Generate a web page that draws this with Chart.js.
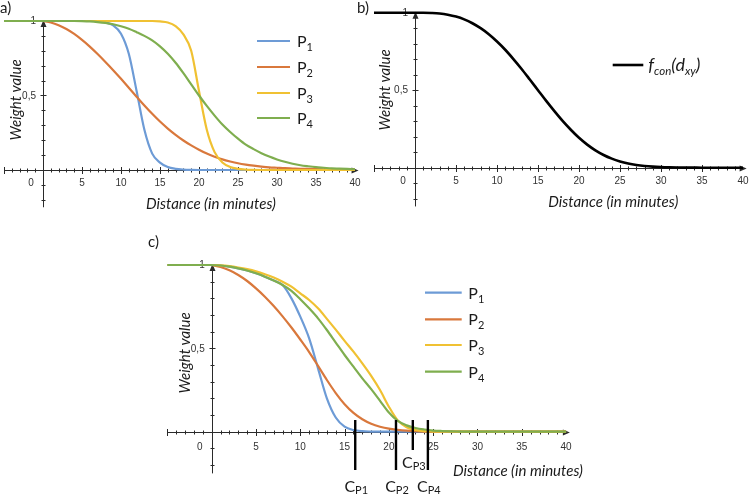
<!DOCTYPE html>
<html><head><meta charset="utf-8">
<script src="https://cdn.jsdelivr.net/npm/chart.js@4.4.1/dist/chart.umd.min.js"></script>
<style>
html,body{margin:0;padding:0;background:#fff;}
body{width:750px;height:494px;position:relative;overflow:hidden;}
canvas{position:absolute;}
</style></head><body>
<canvas id="ca"></canvas>
<canvas id="cb"></canvas>
<canvas id="cc"></canvas>
<script>
// ---------------- DATA ----------------
const distance = [-5,-4,-3,-2,-1,0,1,2,3,4,5,6,7,8,9,10,11,12,13,14,15,16,17,18,19,20,21,22,23,24,25,26,27,28,29,30,31,32,33,34,35,36,37,38,39,40];
const xTickValues = [0,5,10,15,20,25,30,35,40];
const xTickLabels = ['0','5','10','15','20','25','30','35','40'];
const yTickValues = [1,0.5];
const yTickLabels = ['1','0,5'];
const seriesNames = ['P1','P2','P3','P4'];

// panel a
const aP1 = [1,1,1,1,1,1,1,1,1,1,1,1,1,0.99,0.97,0.915,0.78,0.53,0.27,0.11,0.05,0.02,0.008,0.003,0.001,0,0,0,0,0,0,0,0,0,0,0,0,0,0,0,0,0,0,0,0,0];
const aP2 = [null,null,null,null,null,1,0.99,0.972,0.946,0.913,0.873,0.828,0.778,0.725,0.67,0.612,0.552,0.492,0.433,0.377,0.325,0.278,0.236,0.198,0.165,0.136,0.11,0.089,0.071,0.057,0.045,0.036,0.029,0.023,0.018,0.015,0.012,0.01,0.008,0.007,0.006,0.005,0.004,0.004,0.003,0.003];
const aP3 = [1,1,1,1,1,1,1,1,1,1,1,1,1,1,1,1,1,1,1,1,0.997,0.99,0.965,0.91,0.8,0.53,0.27,0.12,0.05,0.02,0.008,0.003,0.001,0,0,0,0,0,0,0,0,0,0,0,0,0];
const aP4 = [1,1,1,1,1,1,1,1,1,1,0.999,0.997,0.993,0.987,0.978,0.965,0.948,0.925,0.9,0.87,0.83,0.78,0.72,0.65,0.575,0.5,0.43,0.365,0.305,0.255,0.21,0.17,0.14,0.113,0.09,0.071,0.055,0.042,0.032,0.025,0.019,0.015,0.011,0.009,0.007,0.005];

// panel b
const bFcon = [1,1,1,1,1,1,0.9998,0.998,0.9945,0.987,0.975,0.957,0.932,0.9,0.861,0.814,0.761,0.701,0.637,0.569,0.5,0.431,0.365,0.302,0.245,0.193,0.149,0.112,0.082,0.0585,0.0404,0.0271,0.0176,0.011,0.0067,0.0039,0.0022,0.0012,0.0006,0.0003,0,0,0,0,0,0];

// panel c
const cP1 = [1,1,1,1,1,1,0.997,0.99,0.98,0.967,0.95,0.93,0.907,0.88,0.8,0.69,0.56,0.38,0.2,0.085,0.03,0.01,0.003,0.001,0,0,0,0,0,0,0,0,0,0,0,0,0,0,0,0,0,0,0,0,0,0];
const cP2 = [null,null,null,null,null,1,0.988,0.968,0.94,0.904,0.86,0.81,0.754,0.692,0.625,0.553,0.478,0.395,0.31,0.232,0.165,0.113,0.075,0.048,0.03,0.018,0.011,0.006,0.003,0.001,0,0,0,0,0,0,0,0,0,0,0,0,0,0,0,0];
const cP3 = [1,1,1,1,1,1,0.998,0.993,0.985,0.975,0.962,0.945,0.925,0.9,0.87,0.83,0.79,0.74,0.677,0.612,0.545,0.48,0.41,0.335,0.25,0.15,0.068,0.027,0.01,0.003,0.001,0,0,0,0,0,0,0,0,0,0,0,0,0,0,0];
const cP4 = [1,1,1,1,1,1,0.997,0.99,0.98,0.967,0.95,0.93,0.907,0.88,0.845,0.795,0.74,0.68,0.61,0.535,0.46,0.39,0.32,0.255,0.185,0.115,0.065,0.038,0.022,0.013,0.007,0.004,0.002,0.001,0,0,0,0,0,0,0,0,0,0,0,0];
const cutoffs = [16.2, 20.8, 22.7, 24.4];
const cutoffNames = ['P1','P2','P3','P4'];

// ---------------- STYLE ----------------
const COLORS = ['#6d9bd6','#d9783c','#f0c132','#7fae4f'];
const AXIS = '#2a2a2a';
const TEXT = '#1a1a1a';
const XMIN = -5.4, XMAX = 40.6, YMIN = -0.3, YMAX = 1.05;
const TICKFONT = '10px "Liberation Sans", Arial, sans-serif';
const TITLEFONT = 'italic 15px Lato, "Open Sans", sans-serif';

function richText(ctx, x, y, parts, align) {
  let w = 0;
  parts.forEach(p => { ctx.font = p[1]; w += ctx.measureText(p[0]).width; });
  let cx = align === 'center' ? x - w / 2 : (align === 'right' ? x - w : x);
  ctx.textAlign = 'left'; ctx.textBaseline = 'alphabetic';
  parts.forEach(p => { ctx.font = p[1]; ctx.fillText(p[0], cx, y + (p[2] || 0)); cx += ctx.measureText(p[0]).width; });
}
function subParts(head, sub, big, small, drop) {
  return [[head, big + 'px Lato, sans-serif'], [sub, small + 'px Lato, sans-serif', drop]];
}

function makeSketch(d) {
  return {
    id: 'sketch',
    beforeDatasetsDraw(chart) {
      const ctx = chart.ctx, sx = chart.scales.x, sy = chart.scales.y;
      const X = v => sx.getPixelForValue(v), Y = v => sy.getPixelForValue(v);
      const ox = Math.round(X(0)) + 0.5, oy = Math.round(Y(0)) + 0.5;
      ctx.save();
      ctx.strokeStyle = AXIS; ctx.fillStyle = AXIS; ctx.lineWidth = 1;
      ctx.beginPath();
      ctx.moveTo(X(-5), oy); ctx.lineTo(X(40.2), oy);
      ctx.moveTo(ox, Y(-0.25)); ctx.lineTo(ox, Y(1) + 3);
      ctx.stroke();
      const xe = X(40.2), yt = Y(1);
      ctx.beginPath(); ctx.moveTo(xe + 2, oy); ctx.lineTo(xe - 5, oy - 3); ctx.lineTo(xe - 5, oy + 3); ctx.closePath(); ctx.fill();
      ctx.beginPath(); ctx.moveTo(ox, yt - 1); ctx.lineTo(ox - 3, yt + 6); ctx.lineTo(ox + 3, yt + 6); ctx.closePath(); ctx.fill();
      ctx.beginPath();
      for (let v = -5; v <= 39; v++) {
        if (v === 0) continue;
        const px = Math.round(X(v)) + 0.5, L = (v % 5 === 0) ? 3.5 : 2;
        ctx.moveTo(px, oy - L); ctx.lineTo(px, oy + L);
      }
      for (let k = -2; k <= 9; k++) {
        if (k === 0) continue;
        const py = Math.round(Y(k / 10)) + 0.5, L = (k === 5) ? 3 : 2;
        ctx.moveTo(ox - L, py); ctx.lineTo(ox + L, py);
      }
      ctx.stroke();
      // tick labels
      ctx.fillStyle = '#333'; ctx.font = TICKFONT; ctx.textBaseline = 'middle';
      ctx.textAlign = 'center';
      xTickValues.forEach((v, i) => ctx.fillText(xTickLabels[i], v === 0 ? X(0) - 12 : X(v), Y(0) + d.xLabelDy));
      ctx.textAlign = 'right';
      yTickValues.forEach((v, i) => ctx.fillText(yTickLabels[i], X(0) - 7, Y(v) + 0.5));
      // titles
      ctx.fillStyle = TEXT; ctx.font = TITLEFONT; ctx.textAlign = 'center'; ctx.textBaseline = 'middle';
      ctx.fillText('Distance (in minutes)', d.xTitle[0], d.xTitle[1]);
      ctx.save(); ctx.translate(d.yTitle[0], d.yTitle[1]); ctx.rotate(-Math.PI / 2);
      ctx.fillText('Weight value', 0, 0); ctx.restore();
      ctx.restore();
    },
    afterDraw(chart) {
      const ctx = chart.ctx, sx = chart.scales.x, sy = chart.scales.y;
      const X = v => sx.getPixelForValue(v), Y = v => sy.getPixelForValue(v);
      ctx.save();
      ctx.fillStyle = TEXT;
      (d.tags || []).forEach(t => { ctx.font = '15px Lato, sans-serif'; ctx.textAlign = 'left'; ctx.textBaseline = 'alphabetic'; ctx.fillText(t[0], t[1], t[2]); });
      if (d.legend) {
        const L = d.legend;
        seriesNames.forEach((n, i) => {
          ctx.strokeStyle = COLORS[i]; ctx.lineWidth = 2.2;
          ctx.beginPath(); ctx.moveTo(L.x1, L.rows[i]); ctx.lineTo(L.x2, L.rows[i]); ctx.stroke();
          ctx.fillStyle = TEXT;
          richText(ctx, L.tx, L.rows[i] + 6, subParts(n[0], n.slice(1), 16, 11, 4), 'left');
        });
      }
      if (d.fLegend) {
        const F = d.fLegend;
        ctx.strokeStyle = '#000'; ctx.lineWidth = 2.6;
        ctx.beginPath(); ctx.moveTo(F.x1, F.y); ctx.lineTo(F.x2, F.y); ctx.stroke();
        ctx.fillStyle = TEXT;
        const B = 'italic 18px Lato, sans-serif', S = 'italic 11.5px Lato, sans-serif';
        richText(ctx, F.tx, F.y + 6, [['f', B], ['con', S, 4], ['(d', B], ['xy', S, 4], [')', B]], 'left');
      }
      if (d.cutoffLabels) {
        ctx.fillStyle = TEXT;
        cutoffs.forEach((c, i) => {
          richText(ctx, X(c) + 1, Y(0) + d.cutoffLabels[i], subParts('C', cutoffNames[i], 16, 11, 2), 'center');
        });
      }
      ctx.restore();
    }
  };
}

function series(vals, color, order, width) {
  return {
    data: distance.map((x, i) => ({ x: x, y: vals[i] })),
    borderColor: color, borderWidth: width || 2.2, pointRadius: 0, fill: false,
    cubicInterpolationMode: 'monotone', order: order, spanGaps: false
  };
}

function makeChart(id, cal, datasets, deco) {
  const cv = document.getElementById(id);
  cv.width = cal.w; cv.height = cal.h;
  cv.style.left = cal.left + 'px'; cv.style.top = cal.top + 'px';
  cv.style.width = cal.w + 'px'; cv.style.height = cal.h + 'px';
  const pad = {
    left: cal.x0 + cal.xs * XMIN - cal.left,
    right: cal.w - (cal.x0 + cal.xs * XMAX - cal.left),
    top: (cal.y0 - cal.ys * YMAX) - cal.top,
    bottom: cal.h - ((cal.y0 - cal.ys * YMIN) - cal.top)
  };
  return new Chart(cv, {
    type: 'line',
    data: { datasets: datasets },
    options: {
      responsive: false, animation: false, events: [], devicePixelRatio: 1,
      layout: { padding: pad },
      scales: {
        x: { type: 'linear', min: XMIN, max: XMAX, display: false },
        y: { type: 'linear', min: YMIN, max: YMAX, display: false }
      },
      plugins: { legend: { display: false }, tooltip: { enabled: false } }
    },
    plugins: [makeSketch(deco)]
  });
}

// Panel a
makeChart('ca', { left: 0, top: 0, w: 372, h: 220, x0: 43, xs: 7.8, y0: 170, ys: 149 },
  [series(aP1, COLORS[0], 4), series(aP2, COLORS[1], 3), series(aP3, COLORS[2], 2), series(aP4, COLORS[3], 1)],
  { xLabelDy: 13.3, xTitle: [211, 204], yTitle: [16, 100], tags: [['a)', 0, 13], ['b)', 357, 13]],
    legend: { x1: 257, x2: 290, tx: 297, rows: [41, 67, 93, 118] } });

// Panel b
makeChart('cb', { left: 370, top: 0, w: 380, h: 220, x0: 415, xs: 8.2, y0: 167.7, ys: 155 },
  [series(bFcon, '#000000', 1, 2.6)],
  { xLabelDy: 14, xTitle: [243.3, 201.7], yTitle: [15, 90],
    fLegend: { x1: 242.7, x2: 273.3, y: 65, tx: 278.3 } });

// Panel c
const cutoffSets = cutoffs.map((c, i) => ({
  data: [{ x: c, y: 0.07 }, { x: c, y: i === 2 ? -0.11 : -0.23 }],
  borderColor: '#000', borderWidth: 2.4, pointRadius: 0, fill: false, order: 0
}));
makeChart('cc', { left: 140, top: 222, w: 460, h: 272, x0: 211.7, xs: 8.86, y0: 431.7, ys: 166.7 },
  [series(cP1, COLORS[0], 4), series(cP2, COLORS[1], 3), series(cP3, COLORS[2], 2), series(cP4, COLORS[3], 1)].concat(cutoffSets),
  { xLabelDy: 16, xTitle: [378, 248.7], yTitle: [45, 131], tags: [['c)', 8, 25]],
    legend: { x1: 285, x2: 321.7, tx: 328.3, rows: [70.7, 97.3, 123, 149.7] },
    cutoffLabels: [60, 60, 36.5, 60] });
</script>
</body></html>
